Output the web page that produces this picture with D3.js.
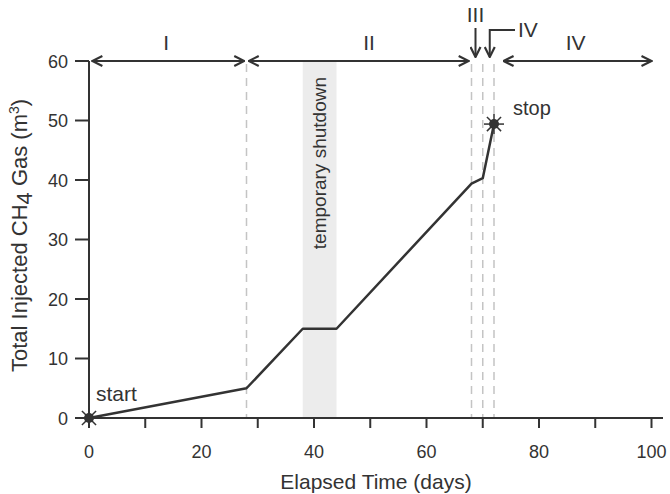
<!DOCTYPE html>
<html>
<head>
<meta charset="utf-8">
<script src="https://cdn.jsdelivr.net/npm/d3@7"></script>
<style>
  body { margin: 0; background: #fff; }
  text { font-family: "Liberation Sans", Arial, sans-serif; fill: #333; }
</style>
</head>
<body>
<script>
// data
var days = [0, 28, 38, 44, 68, 70, 72];
var gas = [0, 5, 15, 15, 39.4, 40.3, 49.4];
var phaseLines = [28, 68, 70, 72];
var shutdown = [38, 44];
var phaseNames = ["I", "II", "IV"];
var phaseFrom = [0.6, 28.4, 73.7];
var phaseTo = [27.6, 67.5, 100];
var phaseLabelX = [13.7, 49.8, 86.5];
var xTicks = [0, 10, 20, 30, 40, 50, 60, 70, 80, 90, 100];
var xLabels = [0, 20, 40, 60, 80, 100];
var yTicks = [0, 10, 20, 30, 40, 50, 60];

var width = 670, height = 494;
var ink = "#333";

var x = d3.scaleLinear().domain([0, 100]).range([89, 651.5]);
var y = d3.scaleLinear().domain([0, 60]).range([418, 61]);

var svg = d3.select("body").append("svg")
    .attr("width", width)
    .attr("height", height);

// shutdown band
svg.append("rect")
    .attr("x", x(shutdown[0]))
    .attr("y", y(60))
    .attr("width", x(shutdown[1]) - x(shutdown[0]))
    .attr("height", y(0) - y(60))
    .attr("fill", "#ececec");

svg.append("text")
    .attr("transform", "translate(" + (x((shutdown[0] + shutdown[1]) / 2) + 6.5) + "," + (y(60) + 16) + ") rotate(-90)")
    .attr("text-anchor", "end")
    .style("font-size", "19px")
    .text("temporary shutdown");

// dashed phase boundaries
svg.selectAll("line.phase")
    .data(phaseLines)
    .enter()
    .append("line")
    .classed("phase", true)
    .attr("x1", function(d){return x(d);})
    .attr("x2", function(d){return x(d);})
    .attr("y1", y(60) + 3)
    .attr("y2", y(0))
    .attr("stroke", "#c4c4c4")
    .attr("stroke-width", 1.5)
    .attr("stroke-dasharray", "8,6");

// axes
var xAxis = svg.append("g");
xAxis.append("line")
    .attr("x1", x(0)).attr("x2", 663)
    .attr("y1", y(0)).attr("y2", y(0))
    .attr("stroke", ink).attr("stroke-width", 2);
xAxis.selectAll("line.tick")
    .data(xTicks)
    .enter()
    .append("line")
    .classed("tick", true)
    .attr("x1", function(d){return x(d);})
    .attr("x2", function(d){return x(d);})
    .attr("y1", y(0))
    .attr("y2", y(0) + 10)
    .attr("stroke", ink).attr("stroke-width", 2);
xAxis.selectAll("text")
    .data(xLabels)
    .enter()
    .append("text")
    .attr("x", function(d){return x(d);})
    .attr("y", 458)
    .attr("text-anchor", "middle")
    .style("font-size", "18px")
    .text(function(d){return d;});

var yAxis = svg.append("g");
yAxis.append("line")
    .attr("x1", x(0)).attr("x2", x(0))
    .attr("y1", y(60)).attr("y2", y(0))
    .attr("stroke", ink).attr("stroke-width", 2);
yAxis.selectAll("line.tick")
    .data(yTicks)
    .enter()
    .append("line")
    .classed("tick", true)
    .attr("x1", x(0) - 14)
    .attr("x2", x(0))
    .attr("y1", function(d){return y(d);})
    .attr("y2", function(d){return y(d);})
    .attr("stroke", ink).attr("stroke-width", 2);
yAxis.selectAll("text")
    .data(yTicks)
    .enter()
    .append("text")
    .attr("x", 68)
    .attr("y", function(d){return y(d) + 6.5;})
    .attr("text-anchor", "end")
    .style("font-size", "18px")
    .text(function(d){return d;});

svg.append("text")
    .attr("x", 376)
    .attr("y", 489)
    .attr("text-anchor", "middle")
    .style("font-size", "21px")
    .text("Elapsed Time (days)");

var yTitle = svg.append("text")
    .attr("transform", "translate(27,372) rotate(-90)")
    .attr("text-anchor", "start")
    .style("font-size", "22px");
yTitle.append("tspan").text("Total Injected CH");
yTitle.append("tspan").attr("dy", 5).text("4");
yTitle.append("tspan").attr("dy", -5).text(" Gas (m");
yTitle.append("tspan").attr("dy", -8).style("font-size", "14px").text("3");
yTitle.append("tspan").attr("dy", 8).text(")");

// injection curve
var pts = days.map(function(d, i){return [d, gas[i]];});
var line = d3.line()
    .x(function(d){return x(d[0]);})
    .y(function(d){return y(d[1]);});
svg.append("path")
    .datum(pts)
    .attr("d", line)
    .attr("fill", "none")
    .attr("stroke", ink)
    .attr("stroke-width", 2.5)
    .attr("stroke-linejoin", "round");

// start / stop stars
var stars = [pts[0], pts[pts.length - 1]];
var starG = svg.selectAll("g.star")
    .data(stars)
    .enter()
    .append("g")
    .classed("star", true)
    .attr("transform", function(d){return "translate(" + x(d[0]) + "," + y(d[1]) + ")";});
starG.selectAll("line")
    .data(d3.range(8))
    .enter()
    .append("line")
    .attr("x1", 0).attr("y1", 0)
    .attr("x2", function(i){return 10 * Math.cos(i * Math.PI / 4);})
    .attr("y2", function(i){return 10 * Math.sin(i * Math.PI / 4);})
    .attr("stroke", ink).attr("stroke-width", 1.5);
starG.append("circle").attr("r", 5).attr("fill", ink);

svg.append("text").attr("x", 96).attr("y", 401).style("font-size", "21px").text("start");
svg.append("text").attr("x", 513).attr("y", 115).style("font-size", "20px").text("stop");

// arrow heads
var defs = svg.append("defs");
defs.append("marker")
    .attr("id", "head")
    .attr("viewBox", "0 0 12 12")
    .attr("refX", 11).attr("refY", 6)
    .attr("markerWidth", 12).attr("markerHeight", 12)
    .attr("markerUnits", "userSpaceOnUse")
    .attr("orient", "auto-start-reverse")
    .append("path")
    .attr("d", "M1,1 L11,6 L1,11")
    .attr("fill", "none")
    .attr("stroke", ink)
    .attr("stroke-width", 2.2)
    .attr("stroke-linejoin", "miter");

// phase spans
svg.selectAll("line.span")
    .data(phaseNames)
    .enter()
    .append("line")
    .classed("span", true)
    .attr("x1", function(d, i){return x(phaseFrom[i]);})
    .attr("x2", function(d, i){return x(phaseTo[i]);})
    .attr("y1", y(60)).attr("y2", y(60))
    .attr("stroke", ink).attr("stroke-width", 2)
    .attr("marker-start", "url(#head)")
    .attr("marker-end", "url(#head)");
svg.selectAll("text.span")
    .data(phaseNames)
    .enter()
    .append("text")
    .classed("span", true)
    .attr("x", function(d, i){return x(phaseLabelX[i]);})
    .attr("y", 50)
    .attr("text-anchor", "middle")
    .style("font-size", "21px")
    .text(function(d){return d;});

// short phases III and IV: pointer arrows
svg.append("path")
    .attr("d", "M" + (x(68) + 4) + ",28 V57")
    .attr("fill", "none").attr("stroke", ink).attr("stroke-width", 2)
    .attr("marker-end", "url(#head)");
svg.append("path")
    .attr("d", "M515,30 H" + (x(70) + 7) + " V57")
    .attr("fill", "none").attr("stroke", ink).attr("stroke-width", 2)
    .attr("marker-end", "url(#head)");
svg.append("text").attr("x", x(68) + 4).attr("y", 22).attr("text-anchor", "middle").style("font-size", "21px").text("III");
svg.append("text").attr("x", 518).attr("y", 37).style("font-size", "21px").text("IV");
</script>
</body>
</html>
